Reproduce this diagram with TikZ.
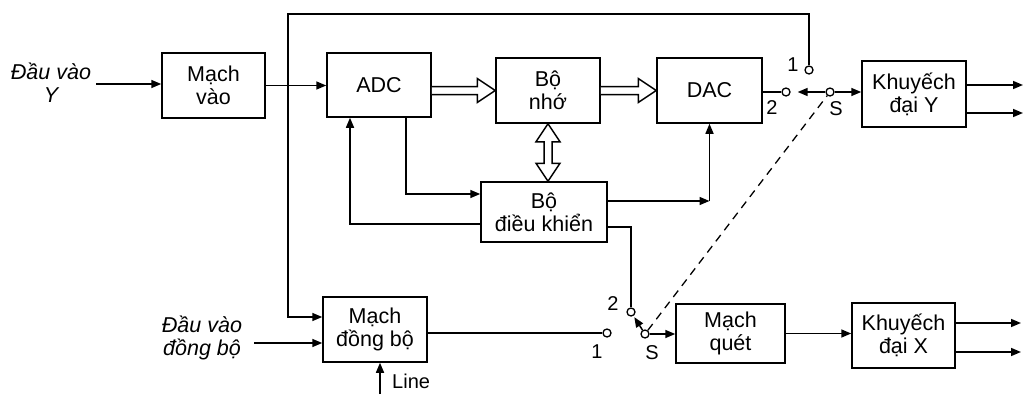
\documentclass[tikz,border=0pt]{standalone}
\usepackage{fontspec}
\setmainfont{Liberation Sans}
\usetikzlibrary{arrows.meta,calc}
\begin{document}
\begin{tikzpicture}[x=1pt,y=-1pt,
 box/.style={draw,line width=1.5pt,align=center,inner sep=0pt,font=\fontsize{21.5}{23}\selectfont},
 lbl/.style={inner sep=0pt,font=\fontsize{20}{23}\selectfont},
 itl/.style={inner sep=0pt,align=center,font=\fontsize{21.5}{23}\selectfont\itshape},
 ln/.style={line width=1.5pt},
 arr/.style={ln,-{Triangle[length=10pt,width=8pt]}},
 sw/.style={circle,draw,line width=1.3pt,inner sep=0pt,minimum size=8pt,fill=white},
 hol/.style={line width=1.5pt,fill=white,line join=miter}]
\useasboundingbox (0,0) rectangle (1023,394);
% boxes
\node[box,minimum width=103pt,minimum height=65pt] (mv) at (213.5,85.5) {Mạch\\vào};
\node[box,minimum width=104pt,minimum height=64pt] (adc) at (379,85) {ADC};
\node[box,minimum width=104pt,minimum height=65pt] (mem) at (548,90.5) {Bộ\\nhớ};
\node[box,minimum width=105pt,minimum height=65pt] (dac) at (709.5,90.5) {DAC};
\node[box,minimum width=104pt,minimum height=66pt] (ampy) at (914,94) {Khuyếch\\đại Y};
\node[box,minimum width=126pt,minimum height=60pt] (ctrl) at (544,212) {Bộ\\điều khiển};
\node[box,minimum width=104pt,minimum height=65pt] (sync) at (375,329.5) {Mạch\\đồng bộ};
\node[box,minimum width=109pt,minimum height=59pt] (sweep) at (730.5,333.5) {Mạch\\quét};
\node[box,minimum width=103pt,minimum height=65pt] (ampx) at (903.5,335.5) {Khuyếch\\đại X};
% input labels
\node[itl] (iny) at (51,83) {Đầu vào\\Y};
\node[itl] (insync) at (202,338) {Đầu vào\\đồng bộ};
\node[lbl,anchor=west] (linelbl) at (392,381) {Line};
% switch contacts
\node[sw] (c1u) at (809,70) {};
\node[sw] (c2u) at (786,92) {};
\node[sw] (su) at (830,92) {};
\node[sw] (c2l) at (631,312) {};
\node[sw] (c1l) at (607,333) {};
\node[sw] (sl) at (645,334) {};
\node[lbl] (l1u) at (793,65) {1};
\node[lbl] (l2u) at (772,108) {2};
\node[lbl] (lsu) at (836,109) {S};
\node[lbl] (l2l) at (613,304) {2};
\node[lbl] (l1l) at (597,352) {1};
\node[lbl] (lsl) at (652,353) {S};
% coordinates
\coordinate (iny0) at (96,84);
\coordinate (vtop) at (288,14);
\coordinate (syncin) at (254,343);
\coordinate (linein) at (380,394);
\coordinate (jd) at ([yshift=11pt]ctrl.east -| dac.south);
\coordinate (oy1) at (1023,85);
\coordinate (oy2) at (1023,113);
\coordinate (ox1) at (1021,323);
\coordinate (ox2) at (1021,352);
% connectors
\draw[arr] (iny0) -- (iny0 -| mv.west);
\draw[arr] (mv.east) -- (adc.west |- mv.east);
\draw[arr] (c1u.north) |- (vtop) |- ([yshift=12.5pt]sync.west);
\draw[arr] (syncin) -- (syncin -| sync.west);
\draw[arr] (linein) -- (linein |- sync.south);
\draw[arr] ([xshift=27pt]adc.south) |- ([yshift=18pt]ctrl.west);
\draw[arr] ([yshift=-12pt]ctrl.west) -| ([xshift=-29pt]adc.south);
\draw[arr] ([yshift=11pt]ctrl.east) -- (jd);
\draw[arr] (jd) -- (dac.south);
\draw[ln] ([yshift=-15pt]ctrl.east) -| (c2l.north);
\draw[ln] (sync.east |- c1l) -- (c1l.west);
\draw[arr,shorten >=1.5pt] (sl) -- (c2l);
\draw[arr] (sl.east) -- (sweep.west |- sl.east);
\draw[arr] (sweep.east) -- (ampx.west |- sweep.east);
\draw[arr] (oy1 -| ampy.east) -- (oy1);
\draw[arr] (oy2 -| ampy.east) -- (oy2);
\draw[arr] (ox1 -| ampx.east) -- (ox1);
\draw[arr] (ox2 -| ampx.east) -- (ox2);
\draw[ln] (dac.east |- c2u) -- (c2u.west);
\draw[arr,shorten >=7pt] (su) -- (c2u);
\draw[arr] (su) -- (ampy.west |- su);
\draw[line width=1.3pt,dash pattern=on 8pt off 6pt] (sl) -- (su);
% hollow bus arrows
\draw[hol] let \p1=(adc.east), \p2=(mem.west) in
  (\x1,\y2+4pt) -- (\x2-18pt,\y2+4pt) -- (\x2-18pt,\y2+12pt) -- (\x2,\y2)
  -- (\x2-18pt,\y2-12pt) -- (\x2-18pt,\y2-4pt) -- (\x1,\y2-4pt);
\draw[hol] let \p1=(mem.east), \p2=(dac.west) in
  (\x1,\y2+4pt) -- (\x2-18pt,\y2+4pt) -- (\x2-18pt,\y2+12pt) -- (\x2,\y2)
  -- (\x2-18pt,\y2-12pt) -- (\x2-18pt,\y2-4pt) -- (\x1,\y2-4pt);
\draw[hol] let \p1=(mem.south), \p2=(ctrl.north) in
  (\x1,\y1) -- (\x1+12pt,\y1-18pt) -- (\x1+4pt,\y1-18pt) -- (\x1+4pt,\y2+18pt)
  -- (\x1+12pt,\y2+18pt) -- (\x1,\y2) -- (\x1-12pt,\y2+18pt) -- (\x1-4pt,\y2+18pt)
  -- (\x1-4pt,\y1-18pt) -- (\x1-12pt,\y1-18pt) -- cycle;
\end{tikzpicture}
\end{document}
